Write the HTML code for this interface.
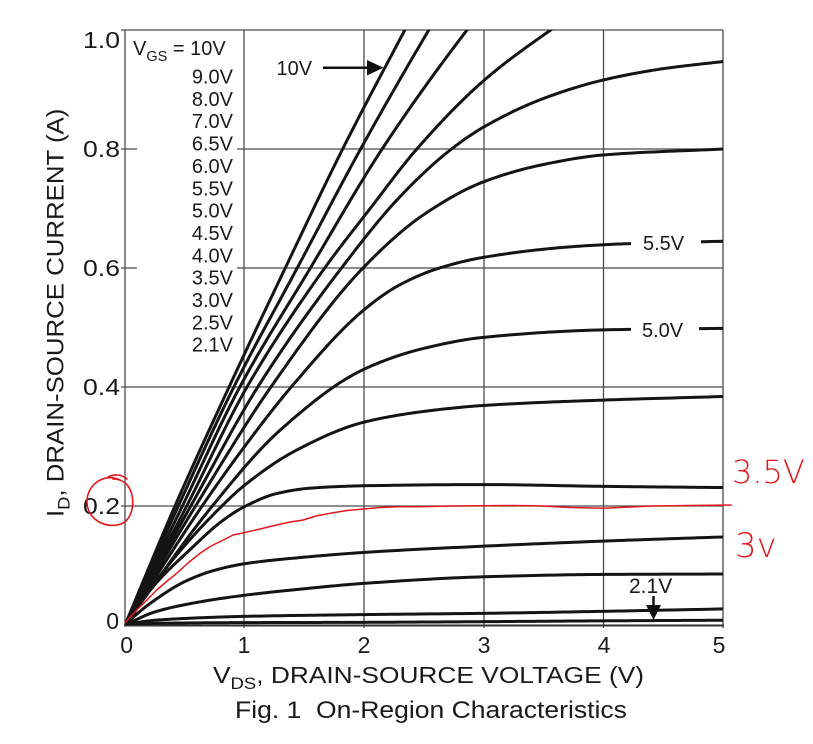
<!DOCTYPE html>
<html><head><meta charset="utf-8"><style>
html,body{margin:0;padding:0;background:#fff;}
svg{display:block;}
text{font-family:"Liberation Sans",Arial,sans-serif;fill:#1a1a1a;}
</style></head><body>
<svg id="s" width="813" height="744" viewBox="0 0 813 744" xmlns="http://www.w3.org/2000/svg">
<rect x="0" y="0" width="813" height="744" fill="#fff"/>
<defs><clipPath id="cp"><rect x="125" y="30" width="598" height="595"/></clipPath></defs>
<g stroke="#4a4a4a" stroke-width="1.3" fill="none">
<line x1="244" y1="30" x2="244" y2="628"/>
<line x1="364" y1="30" x2="364" y2="628"/>
<line x1="484" y1="30" x2="484" y2="628"/>
<line x1="603.5" y1="30" x2="603.5" y2="628"/>
<line x1="121" y1="149" x2="723" y2="149"/>
<line x1="121" y1="268" x2="723" y2="268"/>
<line x1="121" y1="387" x2="723" y2="387"/>
<line x1="121" y1="506" x2="723" y2="506"/>
<line x1="121" y1="30" x2="723" y2="30"/>
<line x1="125" y1="30" x2="125" y2="626"/>
<line x1="723" y1="30" x2="723" y2="628"/>
</g>
<line x1="124" y1="625.5" x2="724" y2="625.5" stroke="#333" stroke-width="2"/>
<rect x="137" y="33" width="100" height="325" fill="#fff"/>
<g id="curves" clip-path="url(#cp)" fill="none" stroke="#141414" stroke-width="3" stroke-linecap="round" stroke-linejoin="round"></g>
<rect x="631" y="228" width="70" height="28" fill="#fff"/>
<rect x="631" y="315" width="68" height="27" fill="#fff"/>
<g font-size="20">
<text x="133" y="55">V<tspan font-size="14.5" dy="6">GS</tspan><tspan dy="-6"> = 10V</tspan></text>
<g text-anchor="end">
<text x="233" y="83.5">9.0V</text>
<text x="233" y="105.9">8.0V</text>
<text x="233" y="128.2">7.0V</text>
<text x="233" y="150.6">6.5V</text>
<text x="233" y="172.9">6.0V</text>
<text x="233" y="195.3">5.5V</text>
<text x="233" y="217.6">5.0V</text>
<text x="233" y="240">4.5V</text>
<text x="233" y="262.3">4.0V</text>
<text x="233" y="284.7">3.5V</text>
<text x="233" y="307">3.0V</text>
<text x="233" y="329.4">2.5V</text>
<text x="233" y="351.7">2.1V</text>
</g>
<text x="276.5" y="75">10V</text>
<text x="643" y="250">5.5V</text>
<text x="642" y="337">5.0V</text>
</g>
<text x="629" y="593" font-size="21">2.1V</text>
<line x1="323" y1="67.7" x2="369" y2="67.7" stroke="#111" stroke-width="2.5"/>
<polygon points="367,60 383.5,67.7 367,75.5" fill="#111"/>
<line x1="653.5" y1="596" x2="653.5" y2="607" stroke="#111" stroke-width="2.5"/>
<polygon points="646,605 661,605 653.5,620" fill="#111"/>
<g font-size="23" text-anchor="end">
<text x="120" y="48" textLength="37" lengthAdjust="spacingAndGlyphs">1.0</text>
<text x="120" y="157" textLength="37" lengthAdjust="spacingAndGlyphs">0.8</text>
<text x="120" y="276" textLength="37" lengthAdjust="spacingAndGlyphs">0.6</text>
<text x="120" y="395" textLength="37" lengthAdjust="spacingAndGlyphs">0.4</text>
<text x="120" y="514" textLength="37" lengthAdjust="spacingAndGlyphs">0.2</text>
<text x="119" y="629">0</text>
</g>
<g font-size="23" text-anchor="middle">
<text x="126.7" y="653">0</text>
<text x="244" y="653">1</text>
<text x="364" y="653">2</text>
<text x="484" y="653">3</text>
<text x="604" y="653">4</text>
<text x="719" y="653">5</text>
</g>
<g transform="translate(213,683) scale(1.12,1)"><text x="0" y="0" font-size="23.5">V<tspan font-size="16.5" dy="6">DS</tspan><tspan dy="-6">, DRAIN-SOURCE VOLTAGE (V)</tspan></text></g>
<g transform="translate(235,718) scale(1.105,1)"><text x="0" y="0" font-size="24" xml:space="preserve">Fig. 1  On-Region Characteristics</text></g>
<g transform="translate(63.5,517) rotate(-90) scale(1.076,1)"><text x="0" y="0" font-size="24">I<tspan font-size="17" dy="6">D</tspan><tspan dy="-6">, DRAIN-SOURCE CURRENT (A)</tspan></text></g>
<polyline fill="none" stroke="#e3161c" stroke-width="1.5" stroke-linejoin="round" points="125,623 131,616 136.7,610 146,601 156.7,590 166,582 176.7,573.3 188,563 200,553.3 211,546 223.3,540 233,535 244,532.7 260,529 276.7,525 290,522 303.3,520 316,516 330,513.3 347,510.5 364,509 380,507.5 396.7,506.7 420,506.7 450,506 484,505.7 510,505.5 536.7,505.7 570,507.5 603.7,508.3 630,507 653,506 690,505.5 731.7,505"/>
<path fill="none" stroke="#e3161c" stroke-width="1.6" stroke-linecap="round" d="M120,480 C103,472 86,486 87,503 C88,520 106,529 121,524 C134,519 136,497 128,486 C124,481 118,479 113,479 M108,477 C114,474 121,474 127,479"/>
<text x="732" y="483" font-size="32" style="font-family:'DejaVu Sans','Liberation Sans',sans-serif;font-weight:200;fill:#e3161c">3.5V</text>
<text x="735" y="557" font-size="34" style="font-family:'DejaVu Sans','Liberation Sans',sans-serif;font-weight:200;fill:#e3161c">3v</text>
</svg>
<script>
(function(){
var X=function(v){return 125+v*119.6;},Y=function(i){return 625-i*595;};
var C=[
[[0,0],[0.418,0.2],[0.87,0.4],[1.34,0.6],[1.82,0.8],[2.34,1.0],[2.5,1.06]],
[[0,0],[0.446,0.2],[0.91,0.4],[1.44,0.6],[1.97,0.8],[2.54,1.0],[2.75,1.07]],
[[0,0],[0.48,0.2],[0.96,0.4],[1.55,0.6],[2.15,0.8],[2.86,1.0],[3.1,1.06]],
[[0,0],[0.516,0.2],[1.02,0.4],[1.67,0.6],[2.05,0.7],[2.44,0.8],[3,0.915],[3.56,1.0],[3.9,1.045]],
[[0,0],[0.55,0.2],[1.11,0.4],[1.81,0.6],[2.3,0.72],[2.73,0.8],[3,0.837],[3.5,0.885],[4,0.916],[4.5,0.935],[5,0.947]],
[[0,0],[0.59,0.2],[1.22,0.4],[1.99,0.6],[2.5,0.69],[3,0.745],[3.5,0.774],[4,0.79],[5,0.8]],
[[0,0],[0.645,0.2],[1.0,0.3],[1.39,0.4],[2,0.53],[2.3,0.572],[2.63,0.6],[3,0.618],[3.75,0.636],[4.22,0.641],[5,0.645]],
[[0,0],[0.73,0.2],[1.3,0.328],[2,0.43],[2.5,0.465],[3,0.4835],[4,0.496],[5,0.4986]],
[[0,0],[0.4,0.11],[0.81,0.2],[1.0,0.235],[1.435,0.294],[2,0.341],[2.5,0.359],[3,0.369],[4,0.378],[5,0.384]],
[[0,0],[0.25,0.068],[0.54,0.126],[0.82,0.176],[1.0,0.199],[1.27,0.221],[1.55,0.23],[2,0.234],[3,0.236],[4,0.233],[5,0.231]],
[[0,0],[0.12,0.022],[0.25,0.042],[0.5,0.073],[0.75,0.092],[1,0.103],[1.5,0.114],[2,0.122],[3,0.1325],[4,0.141],[5,0.148]],
[[0,0],[0.25,0.022],[0.63,0.039],[1,0.05],[1.5,0.061],[2,0.07],[3,0.081],[4,0.085],[5,0.0857]],
[[0,0],[0.2,0.007],[0.5,0.011],[1,0.0145],[2,0.0175],[3,0.0196],[4,0.023],[5,0.027]],
[[0,0],[0.3,0.003],[1,0.004],[2,0.0045],[3,0.0056],[4,0.007],[5,0.008]]
];
function f(n){return Math.round(n*100)/100;}
function mono(pts){
var n=pts.length,xs=[],ys=[],h=[],d=[],m=[],i;
for(i=0;i<n;i++){xs.push(pts[i][0]);ys.push(pts[i][1]);}
for(i=0;i<n-1;i++){h.push(xs[i+1]-xs[i]);d.push((ys[i+1]-ys[i])/h[i]);}
m[0]=d[0];m[n-1]=d[n-2];
for(i=1;i<n-1;i++){
if(d[i-1]*d[i]<=0){m[i]=0;}
else{var h0=h[i-1],h1=h[i];m[i]=3*(h0+h1)/((2*h1+h0)/d[i-1]+(h1+2*h0)/d[i]);}
}
var out=[];
for(i=0;i<n-1;i++){
var N=24;
for(var k=(i===0?0:1);k<=N;k++){
var t=k/N,t2=t*t,t3=t2*t;
var h00=2*t3-3*t2+1,h10=t3-2*t2+t,h01=-2*t3+3*t2,h11=t3-t2;
var x=xs[i]+t*h[i];
var y=h00*ys[i]+h10*h[i]*m[i]+h01*ys[i+1]+h11*h[i]*m[i+1];
out.push(f(X(x))+','+f(Y(y)));
}
}
return out;
}
var g=document.getElementById('curves');
C.forEach(function(pts){
var p=mono(pts);
var el=document.createElementNS('http://www.w3.org/2000/svg','polyline');
el.setAttribute('points',p.join(' '));g.appendChild(el);
});
})();
</script>
</body></html>
